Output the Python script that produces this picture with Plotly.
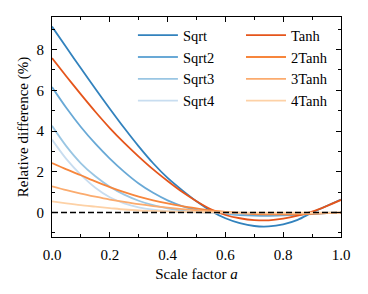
import plotly.graph_objects as go

scale_a = [0.0, 0.05, 0.1, 0.15, 0.2, 0.25, 0.3, 0.35, 0.4, 0.45, 0.5,
           0.55, 0.6, 0.65, 0.7, 0.75, 0.8, 0.85, 0.9, 0.95, 1.0]

sqrt1 = [9.13, 8.10, 7.08, 6.08, 5.10, 4.15, 3.25, 2.42, 1.70, 1.10, 0.55,
         0.08, -0.28, -0.52, -0.66, -0.68, -0.58, -0.36, 0.00, 0.32, 0.64]
sqrt2 = [6.16, 5.13, 4.20, 3.38, 2.65, 2.00, 1.43, 0.97, 0.60, 0.32, 0.13,
         0.02, -0.06, -0.12, -0.15, -0.16, -0.14, -0.11, -0.07, -0.03, 0.00]
sqrt3 = [4.26, 3.25, 2.42, 1.78, 1.27, 0.88, 0.58, 0.36, 0.21, 0.10, 0.03,
         -0.01, -0.04, -0.06, -0.07, -0.07, -0.06, -0.05, -0.03, -0.02, 0.00]
sqrt4 = [3.58, 2.62, 1.85, 1.22, 0.75, 0.45, 0.26, 0.14, 0.07, 0.03, 0.01,
         -0.01, -0.02, -0.03, -0.03, -0.03, -0.03, -0.02, -0.02, -0.01, 0.00]
tanh1 = [7.58, 6.68, 5.80, 4.95, 4.15, 3.42, 2.75, 2.12, 1.55, 1.02, 0.56,
         0.16, -0.12, -0.28, -0.37, -0.38, -0.30, -0.15, 0.05, 0.32, 0.62]
tanh2 = [2.43, 2.12, 1.83, 1.53, 1.25, 1.00, 0.78, 0.60, 0.45, 0.32, 0.21,
         0.11, 0.03, -0.03, -0.07, -0.09, -0.09, -0.08, -0.06, -0.03, 0.00]
tanh3 = [1.29, 1.10, 0.93, 0.78, 0.64, 0.52, 0.41, 0.32, 0.24, 0.17, 0.11,
         0.06, 0.02, -0.01, -0.03, -0.04, -0.04, -0.04, -0.03, -0.02, 0.00]
tanh4 = [0.55, 0.45, 0.36, 0.29, 0.22, 0.15, 0.10, 0.08, 0.06, 0.04, 0.02,
         0.01, 0.00, -0.01, -0.01, -0.01, -0.01, -0.01, -0.01, 0.00, 0.00]

sqrt_names = ["Sqrt", "Sqrt2", "Sqrt3", "Sqrt4"]
tanh_names = ["Tanh", "2Tanh", "3Tanh", "4Tanh"]
sqrt_colors = ["#3282bd", "#69a9d6", "#9ac6e3", "#c8ddf0"]
tanh_colors = ["#e5551b", "#f7863c", "#fbab6e", "#fdd1a6"]

x_ticks = [0.0, 0.2, 0.4, 0.6, 0.8, 1.0]
x_ticklabels = ["0.0", "0.2", "0.4", "0.6", "0.8", "1.0"]
y_ticks = [0, 2, 4, 6, 8]
y_ticklabels = ["0", "2", "4", "6", "8"]

FONT = "Liberation Serif"

fig = go.Figure()
for name, vals, col in zip(sqrt_names, [sqrt1, sqrt2, sqrt3, sqrt4], sqrt_colors):
    fig.add_trace(go.Scatter(x=scale_a, y=vals, name=name, mode="lines",
                             line=dict(color=col, width=1.8, shape="spline", smoothing=0.8),
                             legend="legend"))
for name, vals, col in zip(tanh_names, [tanh1, tanh2, tanh3, tanh4], tanh_colors):
    fig.add_trace(go.Scatter(x=scale_a, y=vals, name=name, mode="lines",
                             line=dict(color=col, width=1.8, shape="spline", smoothing=0.8),
                             legend="legend2"))

fig.add_hline(y=0, line=dict(color="black", width=1.5, dash="6px,3px"), layer="above")

axis_common = dict(
    showline=True, linecolor="black", linewidth=1, mirror="ticks",
    ticks="inside", ticklen=5, tickwidth=1, tickcolor="black",
    showgrid=False, zeroline=False,
    tickfont=dict(family=FONT, size=15, color="black"),
)

fig.update_xaxes(
    range=[0, 1], tickvals=x_ticks, ticktext=x_ticklabels,
    minor=dict(ticks="inside", ticklen=3, dtick=0.1, tickcolor="black", showgrid=False),
    title=dict(text="Scale factor <i>a</i>", font=dict(family=FONT, size=15, color="black"), standoff=6),
    ticklabelstandoff=4,
    **axis_common,
)
fig.update_yaxes(
    range=[-1.2, 9.6], tickvals=y_ticks, ticktext=y_ticklabels,
    minor=dict(ticks="inside", ticklen=3, tickvals=[-1, 1, 3, 5, 7, 9], tickcolor="black", showgrid=False),
    title=dict(text="Relative difference (%)", font=dict(family=FONT, size=15, color="black"), standoff=4),
    ticklabelstandoff=4,
    **axis_common,
)

legend_common = dict(
    bgcolor="rgba(0,0,0,0)", borderwidth=0,
    font=dict(family=FONT, size=14.5, color="black"),
    xanchor="left", yanchor="top", tracegroupgap=0, itemwidth=40,
)

# page body has an 8px default margin; size the figure so it fits the window
fig.update_layout(
    width=360, height=286,
    margin=dict(l=44, r=27, t=9, b=57),
    paper_bgcolor="white", plot_bgcolor="white",
    font=dict(family=FONT, size=15, color="black"),
    showlegend=True,
    legend=dict(x=0.28, y=0.99, **legend_common),
    legend2=dict(x=0.654, y=0.99, **legend_common),
)

fig.write_html("out.html")
